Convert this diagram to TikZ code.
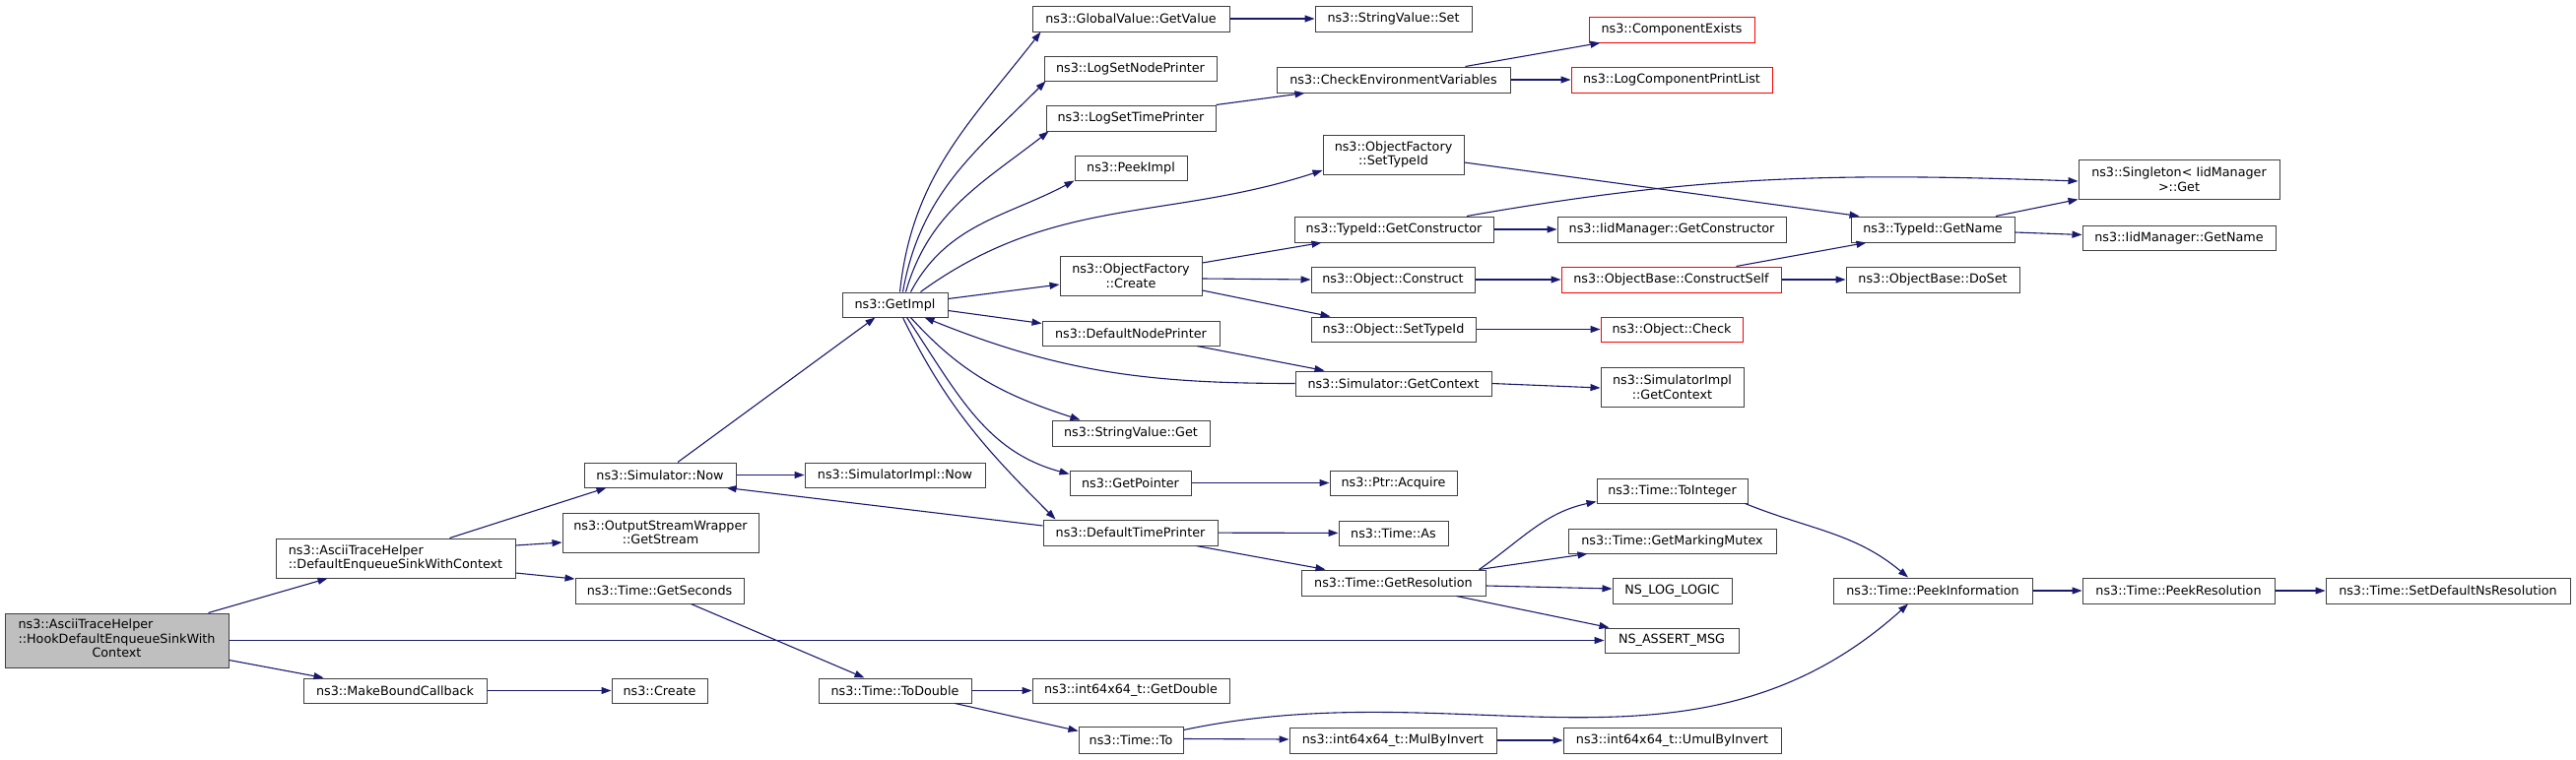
\documentclass[tikz,border=0pt]{standalone}
\usepackage{fontspec}
\setmainfont{DejaVu Sans}
\definecolor{callblue}{HTML}{191970}
\definecolor{boxline}{HTML}{404040}
\definecolor{rootgray}{HTML}{BFBFBF}
\usetikzlibrary{arrows.meta}
\newcommand{\fnfont}{\fontsize{12.75pt}{14.5pt}\selectfont}

\begin{document}
\begin{tikzpicture}[x=1pt, y=-1pt,
    fn/.style={draw=boxline, fill=white, line width=1pt, inner sep=0pt,
               minimum height=25, align=center, font=\fnfont},
    root/.style={fn, fill=rootgray},
    trunc/.style={fn, draw=red},
    call/.style={draw=callblue, line width=1.1pt,
                 -{Triangle[length=10pt,width=7pt]}}]
    \useasboundingbox (0,0) rectangle (2615,771);

    % column 0-2: entry point and direct callees
    \node[root, minimum width=227, minimum height=55] (hook) at (118.5,650.5) {%
      \begin{tabular}{@{}l@{}}ns3::AsciiTraceHelper\\::HookDefaultEnqueueSinkWith\\
      \multicolumn{1}{@{}c@{}}{Context}\end{tabular}};
    \node[fn, minimum width=243, minimum height=40, align=left] (dequeue) at (401.5,567)
      {ns3::AsciiTraceHelper\\::DefaultEnqueueSinkWithContext};
    \node[fn, minimum width=186] (mkcb) at (401,701.5) {ns3::MakeBoundCallback};
    \node[fn, minimum width=154] (simnow) at (670,482.5) {ns3::Simulator::Now};
    \node[fn, minimum width=199, minimum height=40] (getstream) at (670.5,541)
      {ns3::OutputStreamWrapper\\::GetStream};
    \node[fn, minimum width=171, minimum height=26] (getseconds) at (669.5,600) {ns3::Time::GetSeconds};
    \node[fn, minimum width=97] (create) at (669.5,701.5) {ns3::Create};

    % column 3
    \node[fn, minimum width=107] (getimpl) at (908.5,309.5) {ns3::GetImpl};
    \node[fn, minimum width=183] (simimplnow) at (908.5,482.5) {ns3::SimulatorImpl::Now};
    \node[fn, minimum width=155] (todouble) at (908.5,701.5) {ns3::Time::ToDouble};

    % column 4
    \node[fn, minimum width=200, minimum height=26] (gvgetvalue) at (1148,19) {ns3::GlobalValue::GetValue};
    \node[fn, minimum width=175] (logsetnode) at (1147.5,69.5) {ns3::LogSetNodePrinter};
    \node[fn, minimum width=172, minimum height=26] (logsettime) at (1148,120) {ns3::LogSetTimePrinter};
    \node[fn, minimum width=114] (peekimpl) at (1148,170.5) {ns3::PeekImpl};
    \node[fn, minimum width=144, minimum height=40] (ofcreate) at (1148,280)
      {ns3::ObjectFactory\\::Create};
    \node[fn, minimum width=180] (defnodeprinter) at (1148,338.5) {ns3::DefaultNodePrinter};
    \node[fn, minimum width=160, minimum height=26] (svget) at (1148,440) {ns3::StringValue::Get};
    \node[fn, minimum width=123] (getpointer) at (1147.5,490.5) {ns3::GetPointer};
    \node[fn, minimum width=177, minimum height=26] (deftimeprinter) at (1147.5,541) {ns3::DefaultTimePrinter};
    \node[fn, minimum width=200] (getdouble) at (1148,701.5) {ns3::int64x64\_t::GetDouble};
    \node[fn, minimum width=106, minimum height=27] (timeto) at (1148,751.5) {ns3::Time::To};

    % column 5
    \node[fn, minimum width=159, minimum height=26] (svset) at (1414.5,19) {ns3::StringValue::Set};
    \node[fn, minimum width=237, minimum height=26] (checkenv) at (1414.5,81) {ns3::CheckEnvironmentVariables};
    \node[fn, minimum width=143, minimum height=40] (ofsettypeid) at (1414.5,157)
      {ns3::ObjectFactory\\::SetTypeId};
    \node[fn, minimum width=202, minimum height=26] (tidgetctor) at (1415,233) {ns3::TypeId::GetConstructor};
    \node[fn, minimum width=166, minimum height=26] (objconstruct) at (1414,284) {ns3::Object::Construct};
    \node[fn, minimum width=167] (objsettypeid) at (1414.5,334.5) {ns3::Object::SetTypeId};
    \node[fn, minimum width=199] (simgetctx) at (1414.5,389.5) {ns3::Simulator::GetContext};
    \node[fn, minimum width=129] (ptracquire) at (1414.5,490.5) {ns3::Ptr::Acquire};
    \node[fn, minimum width=111] (timeas) at (1414.5,541.5) {ns3::Time::As};
    \node[fn, minimum width=187, minimum height=26] (getres) at (1414.5,592) {ns3::Time::GetResolution};
    \node[fn, minimum width=210, minimum height=26] (mulbyinv) at (1414,752) {ns3::int64x64\_t::MulByInvert};

    % column 6
    \node[trunc, minimum width=168, minimum height=26] (compexists) at (1697,30) {ns3::ComponentExists};
    \node[trunc, minimum width=204, minimum height=26] (logcompprint) at (1697,81) {ns3::LogComponentPrintList};
    \node[fn, minimum width=232, minimum height=26] (iidgetctor) at (1697,233) {ns3::IidManager::GetConstructor};
    \node[trunc, minimum width=223, minimum height=26] (constructself) at (1696.5,284) {ns3::ObjectBase::ConstructSelf};
    \node[trunc, minimum width=144] (objcheck) at (1697,334.5) {ns3::Object::Check};
    \node[fn, minimum width=145, minimum height=40] (simimplgetctx) at (1697.5,393)
      {ns3::SimulatorImpl\\::GetContext};
    \node[fn, minimum width=153] (tointeger) at (1697.5,498.5) {ns3::Time::ToInteger};
    \node[fn, minimum width=211] (markingmutex) at (1697.5,549.5) {ns3::Time::GetMarkingMutex};
    \node[fn, minimum width=121, minimum height=26] (nslog) at (1697.5,600) {NS\_LOG\_LOGIC};
    \node[fn, minimum width=136] (nsassert) at (1697,650.5) {NS\_ASSERT\_MSG};
    \node[fn, minimum width=221, minimum height=26] (umulbyinv) at (1697.5,752) {ns3::int64x64\_t::UmulByInvert};

    % column 7-9
    \node[fn, minimum width=166, minimum height=26] (tidgetname) at (1962,233) {ns3::TypeId::GetName};
    \node[fn, minimum width=176, minimum height=26] (doset) at (1962,284) {ns3::ObjectBase::DoSet};
    \node[fn, minimum width=202, minimum height=26] (peekinfo) at (1962,600) {ns3::Time::PeekInformation};
    \node[fn, minimum width=204, minimum height=40] (singleton) at (2212,182)
      {ns3::Singleton< IidManager\\>::Get};
    \node[fn, minimum width=196] (iidgetname) at (2212,241.5) {ns3::IidManager::GetName};
    \node[fn, minimum width=195, minimum height=26] (peekres) at (2211.5,600) {ns3::Time::PeekResolution};
    \node[fn, minimum width=248, minimum height=26] (setdefns) at (2485,600) {ns3::Time::SetDefaultNsResolution};

    % calls from the entry point
    \draw[call] ([xshift=93]hook.north) -- ([xshift=53]dequeue.south west);
    \draw[call] (hook.east) -- (nsassert.west);
    \draw[call] ([yshift=-20]hook.east) -- ([xshift=21]mkcb.north west);
    \draw[call] ([xshift=55]dequeue.north) -- ([xshift=23]simnow.south west);
    \draw[call] ([yshift=13]dequeue.east) -- ([yshift=-10]getstream.west);
    \draw[call] ([yshift=-15]dequeue.east) -- ([yshift=12]getseconds.west);
    \draw[call] (mkcb) -- (create);
    \draw[call] (simnow) -- (simimplnow);
    \draw[call] ([xshift=18]simnow.north) -- ([xshift=-20]getimpl.south);
    \draw[call] ([yshift=7]deftimeprinter.west) -- ([xshift=-10]simnow.south east);
    \draw[call] ([xshift=32]getseconds.south) -- ([xshift=47]todouble.north west);
    \draw[call] (todouble) -- (getdouble);
    \draw[call] ([xshift=61]todouble.south) -- ([yshift=-5]timeto.north west);
    \draw[call] ([yshift=1]timeto.east) -- ([yshift=1]mulbyinv.west);
    \draw[call] ([yshift=10]timeto.east) to[out=12, in=-138] ([xshift=-25]peekinfo.south);
    \draw[call] (mulbyinv) -- (umulbyinv);

    % fan out of GetImpl
    \draw[call] ([xshift=5]getimpl.north) to[out=84, in=-128] ([xshift=9]gvgetvalue.south west);
    \draw[call] ([xshift=8]getimpl.north) to[out=80, in=-135] ([xshift=2]logsetnode.south west);
    \draw[call] ([xshift=11]getimpl.north) to[out=74, in=-142] ([xshift=3]logsettime.south west);
    \draw[call] ([xshift=16]getimpl.north) to[out=62, in=-152] (peekimpl.south west);
    \draw[call] ([xshift=26]getimpl.north) to[out=36, in=-162] ([yshift=-16]ofsettypeid.west);
    \draw[call] ([yshift=6]getimpl.east) -- ([yshift=-9]ofcreate.west);
    \draw[call] ([yshift=-6]getimpl.east) -- ([yshift=10]defnodeprinter.west);
    \draw[call] (simgetctx.west) to[out=180, in=-22] ([xshift=30]getimpl.south);
    \draw[call] ([xshift=16]getimpl.south) to[out=-48, in=162] ([xshift=29]svget.north west);
    \draw[call] ([xshift=12]getimpl.south) to[out=-56, in=165] ([yshift=-4]getpointer.north west);
    \draw[call] ([xshift=8]getimpl.south) to[out=-64, in=135] ([xshift=13]deftimeprinter.north west);

    % further down the graph
    \draw[call] (gvgetvalue) -- (svset);
    \draw[call] (logsettime.north east) -- ([xshift=29]checkenv.south west);
    \draw[call] ([xshift=73]checkenv.north) -- ([xshift=12]compexists.south west);
    \draw[call] (checkenv) -- (logcompprint);
    \draw[call] ([yshift=-8]ofsettypeid.east) -- ([xshift=9]tidgetname.north west);
    \draw[call] ([yshift=13]ofcreate.east) -- ([xshift=28]tidgetctor.south west);
    \draw[call] ([yshift=-3]ofcreate.east) -- (objconstruct.west);
    \draw[call] ([yshift=-15]ofcreate.east) -- ([xshift=20]objsettypeid.north west);
    \draw[call] (tidgetctor) -- (iidgetctor);
    \draw[call] ([xshift=74]tidgetctor.north) to[out=10, in=178] ([yshift=-2]singleton.west);
    \draw[call] (objconstruct) -- (constructself);
    \draw[call] ([xshift=66]constructself.north) -- ([xshift=16]tidgetname.south west);
    \draw[call] (constructself) -- (doset);
    \draw[call] (objsettypeid) -- (objcheck);
    \draw[call] ([xshift=67]defnodeprinter.south) -- ([xshift=30]simgetctx.north west);
    \draw[call] (simgetctx.east) -- ([yshift=-1]simimplgetctx.west);
    \draw[call] (getpointer) -- (ptracquire);
    \draw[call] (deftimeprinter) -- (timeas);
    \draw[call] ([xshift=67]deftimeprinter.south) -- ([xshift=25]getres.north west);
    \draw[call] ([xshift=87]getres.north) to[out=35, in=192] ([yshift=-11]tointeger.west);
    \draw[call] ([xshift=87]getres.north) -- ([xshift=20]markingmutex.south west);
    \draw[call] ([yshift=-3]getres.east) -- ([yshift=2]nslog.west);
    \draw[call] ([xshift=64]getres.south) -- ([xshift=5]nsassert.north west);
    \draw[call] ([xshift=-3]tointeger.south east) to[out=-22, in=140] ([xshift=-25]peekinfo.north);
    \draw[call] ([xshift=64]tidgetname.north) -- (singleton.south west);
    \draw[call] ([yshift=-3]tidgetname.east) -- ([yshift=3]iidgetname.west);
    \draw[call] (peekinfo) -- (peekres);
    \draw[call] (peekres) -- (setdefns);
  \end{tikzpicture}
\end{document}
